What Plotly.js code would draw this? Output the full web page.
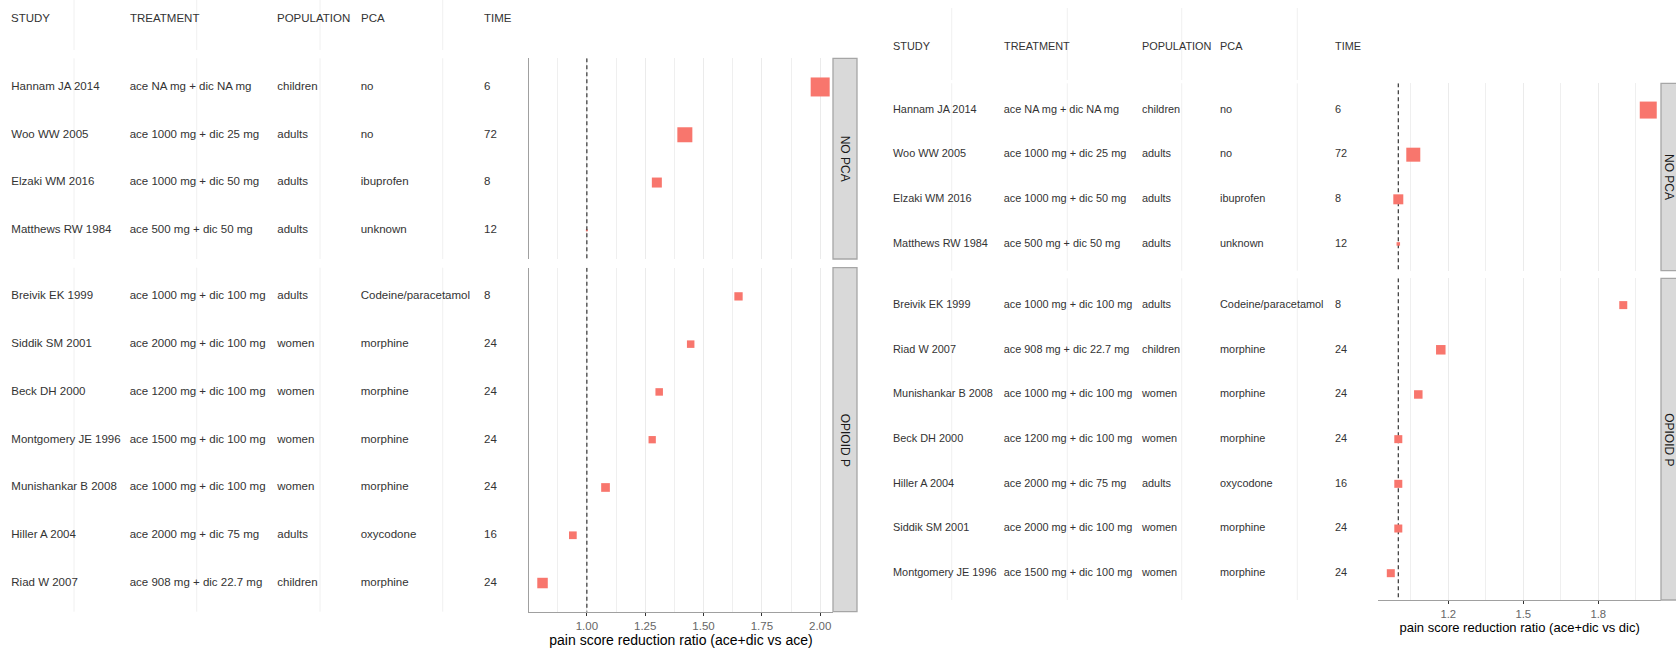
<!DOCTYPE html>
<html>
<head>
<meta charset="utf-8">
<script src="https://cdn.plot.ly/plotly-3.0.1.min.js"></script>
<style>html,body{margin:0;padding:0;background:#fff;}#chart{width:1676px;height:651px;}</style>
</head>
<body>
<div id="chart"></div>
<script>
// ---------------- DATA ----------------
const studies      = ["Hannam JA 2014","Woo WW 2005","Elzaki WM 2016","Matthews RW 1984","Breivik EK 1999","Siddik SM 2001","Beck DH 2000","Montgomery JE 1996","Munishankar B 2008","Hiller A 2004","Riad W 2007"];
const treatments   = ["ace NA mg + dic NA mg","ace 1000 mg + dic 25 mg","ace 1000 mg + dic 50 mg","ace 500 mg + dic 50 mg","ace 1000 mg + dic 100 mg","ace 2000 mg + dic 100 mg","ace 1200 mg + dic 100 mg","ace 1500 mg + dic 100 mg","ace 1000 mg + dic 100 mg","ace 2000 mg + dic 75 mg","ace 908 mg + dic 22.7 mg"];
const populations  = ["children","adults","adults","adults","adults","women","women","women","women","adults","children"];
const pcaUsed      = ["no","no","ibuprofen","unknown","Codeine/paracetamol","morphine","morphine","morphine","morphine","oxycodone","morphine"];
const timesHours   = ["6","72","8","12","8","24","24","24","24","16","24"];
const headers      = ["STUDY","TREATMENT","POPULATION","PCA","TIME"];
const facetLabels  = ["NO PCA","OPIOID P"];
const nullRatio    = 1;

// left chart: ace+dic vs ace
const noPcaStudiesA   = ["Hannam JA 2014","Woo WW 2005","Elzaki WM 2016","Matthews RW 1984"];
const noPcaRatioA     = [2.00, 1.42, 1.30, 1.00];
const noPcaWeightA    = [19, 15, 10, 2];
const opioidStudiesA  = ["Breivik EK 1999","Siddik SM 2001","Beck DH 2000","Montgomery JE 1996","Munishankar B 2008","Hiller A 2004","Riad W 2007"];
const opioidRatioA    = [1.65, 1.445, 1.31, 1.28, 1.08, 0.94, 0.81];
const opioidWeightA   = [8.3, 7.5, 7.5, 7.3, 8.7, 7.7, 10.5];

// right chart: ace+dic vs dic
const noPcaStudiesB   = ["Hannam JA 2014","Woo WW 2005","Elzaki WM 2016","Matthews RW 1984"];
const noPcaRatioB     = [2.00, 1.06, 1.00, 1.00];
const noPcaWeightB    = [17, 14, 10, 3.5];
const opioidStudiesB  = ["Breivik EK 1999","Riad W 2007","Munishankar B 2008","Beck DH 2000","Hiller A 2004","Siddik SM 2001","Montgomery JE 1996"];
const opioidRatioB    = [1.90, 1.17, 1.08, 1.00, 1.00, 1.00, 0.97];
const opioidWeightB   = [8, 9.5, 8.5, 8, 8, 8, 8];

// ---------------- LAYOUT HELPERS ----------------
const W = 1676, H = 651;
const px = x => x / W;
const py = y => 1 - y / H;
const FONT = 'Liberation Sans, Arial, Helvetica, sans-serif';
const POINT = '#F8766D';
const TXT = '#333333';

function info(name){
  const i = studies.indexOf(name);
  return [studies[i], treatments[i], populations[i], pcaUsed[i], timesHours[i]];
}

const traces = [];
function tableTraces(list, xa, ya, colX, fs){
  for (let c = 0; c < 5; c++){
    traces.push({
      type:'scatter', mode:'text', xaxis:xa, yaxis:ya,
      x: list.map(() => colX[c]), y: list,
      text: list.map(s => info(s)[c]),
      textposition:'middle right', cliponaxis:false,
      textfont:{family:FONT, size:fs, color:TXT},
      hoverinfo:'skip'
    });
  }
}
function pointTrace(list, vals, wts, xa, ya){
  traces.push({
    type:'scatter', mode:'markers', xaxis:xa, yaxis:ya,
    x: vals, y: list, cliponaxis:false,
    marker:{symbol:'square', size:wts, color:POINT, opacity:1, line:{width:0}},
    hoverinfo:'skip'
  });
}

// column anchors (layout)
const colXA = [11.3, 129.7, 277.3, 360.7, 484];
const colXB = [893, 1003.7, 1142, 1220, 1335];
tableTraces(noPcaStudiesA, 'x2', 'y', colXA, 11.5);
tableTraces(opioidStudiesA, 'x2', 'y2', colXA, 11.5);
pointTrace(noPcaStudiesA, noPcaRatioA, noPcaWeightA, 'x', 'y');
pointTrace(opioidStudiesA, opioidRatioA, opioidWeightA, 'x', 'y2');

tableTraces(noPcaStudiesB, 'x4', 'y3', colXB, 10.9);
tableTraces(opioidStudiesB, 'x4', 'y4', colXB, 10.9);
pointTrace(noPcaStudiesB, noPcaRatioB, noPcaWeightB, 'x3', 'y3');
pointTrace(opioidStudiesB, opioidRatioB, opioidWeightB, 'x3', 'y4');

// panels (pixel extents)
const A = {x0:529, x1:833, top:[58.3,259], bot:[267.7,611.7], strip:[833,857], stripText:845, head:17.8, grid:[74,196.7,320,442.7], gridY:[[0,50],[58.3,259],[267.7,611.7]], cols:colXA, fs:11.5, refLayer:'above'};
const B = {x0:1378.3, x1:1661, top:[83.3,270.7], bot:[278.3,600], strip:[1661,1686], stripText:1669, head:46.2, grid:[951.7,1067.3,1181.7,1297.3], gridY:[[8,80],[83.3,270.7],[278.3,600]], cols:colXB, fs:10.9, refLayer:'below'};

const PAD = 0.6;
function catAxis(order, dom, anchor, showline){
  return {
    domain:[py(dom[1]), py(dom[0])], type:'category', categoryarray:order,
    range:[order.length - 1 + PAD, -PAD], anchor:anchor,
    showticklabels:false, ticks:'', showgrid:false, zeroline:false,
    showline:showline, linecolor:'#A0A0A0', linewidth:1, fixedrange:true
  };
}
function valAxis(dom, range, anchor, tick0, dtick, fmt, title, tsize, tfs){
  return {
    domain:[px(dom[0]), px(dom[1])], range:range, anchor:anchor,
    tickmode:'linear', tick0:tick0, dtick:dtick, tickformat:fmt,
    ticks:'outside', ticklen:3, tickwidth:1, tickcolor:'#333333',
    tickfont:{family:FONT, size:tfs, color:'#666666'},
    showline:true, linecolor:'#A0A0A0', linewidth:1,
    showgrid:true, gridcolor:'#EBEBEB', gridwidth:1, zeroline:false,
    minor:{tick0:tick0, dtick:dtick/2, showgrid:true, gridcolor:'#EFEFEF', gridwidth:1, ticks:''},
    title:{text:title, font:{family:FONT, size:tsize, color:'#000'}, standoff:4},
    fixedrange:true
  };
}

const shapes = [];
const annotations = [];
function decorate(P, xTab, xPlot, yTop, yBot, nTop, nBot){
  // table grid lines
  P.grid.forEach(g => P.gridY.forEach(seg => {
    shapes.push({type:'line', xref:xTab, yref:'paper', x0:g, x1:g, y0:py(seg[0]), y1:py(seg[1]),
      line:{color:'#F0F0F0', width:1}, layer:'below'});
  }));
  // reference line at ratio = 1
  [[yTop, nTop], [yBot, nBot]].forEach(([ya, n]) => shapes.push({type:'line', xref:xPlot, yref:ya,
    x0:nullRatio, x1:nullRatio, y0:-PAD, y1:n - 1 + PAD,
    line:{color:'#333333', width:1.2, dash:'4px,3px'}, layer:P.refLayer}));
  // strips
  [P.top, P.bot].forEach((seg, k) => {
    shapes.push({type:'rect', xref:'paper', yref:'paper', x0:px(P.strip[0]), x1:px(P.strip[1]),
      y0:py(seg[1]), y1:py(seg[0]), fillcolor:'#D9D9D9', line:{color:'#A6A6A6', width:1.3}, layer:'above'});
    annotations.push({xref:'paper', yref:'paper', x:px(P.stripText), y:py((seg[0]+seg[1])/2),
      text:facetLabels[k], textangle:90, showarrow:false, xanchor:'center', yanchor:'middle',
      font:{family:FONT, size:12, color:'#1A1A1A'}});
  });
  // header row
  headers.forEach((h, c) => annotations.push({xref:xTab, yref:'paper', x:P.cols[c], y:py(P.head),
    text:h, showarrow:false, xanchor:'left', yanchor:'middle', xshift:-2,
    font:{family:FONT, size:P.fs, color:TXT}}));
}
decorate(A, 'x2', 'x', 'y', 'y2', noPcaStudiesA.length, opioidStudiesA.length);
decorate(B, 'x4', 'x3', 'y3', 'y4', noPcaStudiesB.length, opioidStudiesB.length);

const layout = {
  width:W, height:H, margin:{l:0, r:0, t:0, b:0},
  paper_bgcolor:'#ffffff', plot_bgcolor:'rgba(0,0,0,0)',
  showlegend:false, hovermode:false,
  font:{family:FONT, color:TXT},
  xaxis: valAxis([A.x0, A.x1], [0.752, 2.055], 'y2', 1, 0.25, '.2f', 'pain score reduction ratio (ace+dic vs ace)', 14, 11.5),
  yaxis: catAxis(noPcaStudiesA, A.top, 'x', true),
  yaxis2: catAxis(opioidStudiesA, A.bot, 'x', true),
  xaxis2: {domain:[0, px(505)], range:[0, 505], anchor:'y2', visible:false, fixedrange:true},
  xaxis3: valAxis([B.x0, B.x1], [0.92, 2.051], 'y4', 1.2, 0.3, '.1f', 'pain score reduction ratio (ace+dic vs dic)', 13, 11.3),
  yaxis3: catAxis(noPcaStudiesB, B.top, 'x3', false),
  yaxis4: catAxis(opioidStudiesB, B.bot, 'x3', false),
  xaxis4: {domain:[px(870), px(1376)], range:[870, 1376], anchor:'y4', visible:false, fixedrange:true},
  shapes:shapes, annotations:annotations
};

Plotly.newPlot('chart', traces, layout, {displayModeBar:false, staticPlot:true});
</script>
</body>
</html>
